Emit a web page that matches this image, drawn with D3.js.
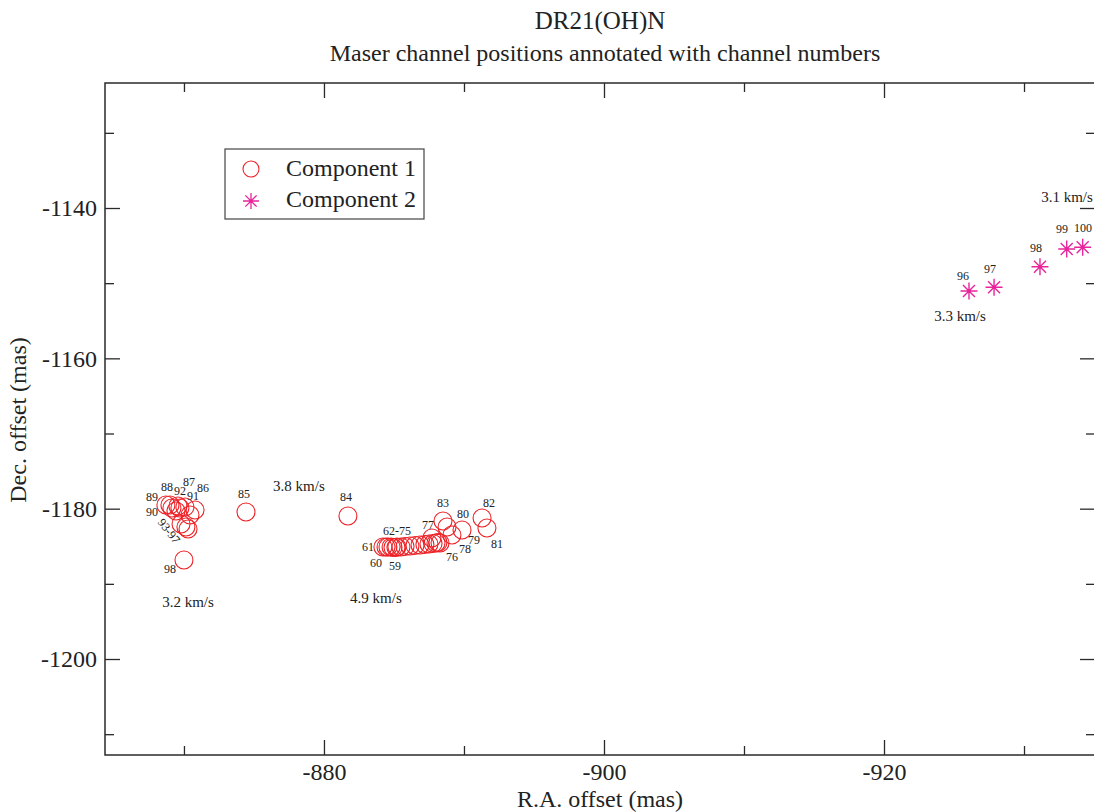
<!DOCTYPE html>
<html>
<head>
<meta charset="utf-8">
<script src="https://cdn.jsdelivr.net/npm/d3@7"></script>
<style>
  html, body { margin: 0; padding: 0; background: #fff; }
  svg { display: block; font-family: "Liberation Serif", "Times New Roman", serif; }
</style>
</head>
<body>
<svg id="chart" width="1094" height="812"></svg>
<script>
// Component 1: maser channels (R.A. / Dec. offsets in mas)
const comp1Channel = [59, 60, 61, 62, 63, 64, 65, 66, 67, 68, 69, 70, 71, 72, 73, 74, 75, 76, 77, 78, 79, 80, 81, 82, 83, 84, 85,
                      86, 87, 88, 89, 90, 91, 92, 93, 94, 95, 96, 97, 98];
const comp1RA  = [-885.21, -884.43, -884.21, -884.57, -884.79, -884.93, -885.14, -885.50, -885.79, -886.14, -886.50, -886.86,
                  -887.21, -887.50, -887.79, -888.00, -888.14, -888.29, -887.71, -888.79, -889.14, -889.86, -891.64, -891.29,
                  -888.50, -881.71, -874.43,
                  -870.79, -870.07, -869.00, -868.71, -869.14, -870.43, -869.57, -869.43, -869.71, -869.79, -870.14, -870.29, -870.00];
const comp1Dec = [-1185.10, -1185.10, -1185.10, -1185.10, -1185.10, -1185.16, -1185.16, -1185.10, -1185.03, -1184.96, -1184.90, -1184.83,
                  -1184.76, -1184.70, -1184.63, -1184.57, -1184.50, -1184.57, -1183.90, -1182.44, -1183.50, -1182.84, -1182.57, -1181.24,
                  -1181.64, -1180.97, -1180.44,
                  -1180.18, -1179.78, -1179.51, -1179.51, -1179.91, -1180.84, -1179.64, -1180.31, -1179.91, -1182.04, -1182.44, -1182.70, -1186.83];

// Component 2: maser channels
const comp2Channel = [96, 97, 98, 99, 100];
const comp2RA  = [-926.07, -927.86, -931.14, -933.05, -934.19];
const comp2Dec = [-1151.04, -1150.55, -1147.81, -1145.45, -1145.23];

// Channel-number annotations (placed in data coordinates)
const chanText = ["86", "87", "88", "89", "90", "92", "91", "98", "85", "84", "62-75", "61", "60", "59",
                  "77", "76", "78", "79", "80", "83", "82", "81",
                  "96", "97", "98", "99", "100"];
const chanRA   = [-871.36, -870.36, -868.79, -867.71, -867.71, -869.71, -870.64, -869.00, -874.29, -881.57, -885.21, -883.14, -883.71, -885.07,
                  -887.43, -889.14, -890.07, -890.71, -889.93, -888.50, -891.79, -892.36,
                  -925.64, -927.57, -930.86, -932.71, -934.21];
const chanDec  = [-1177.78, -1176.95, -1177.65, -1178.98, -1180.97, -1178.15, -1178.78, -1188.56, -1178.58, -1178.98, -1183.50, -1185.63, -1187.76, -1188.16,
                  -1182.70, -1186.96, -1185.90, -1184.70, -1181.24, -1179.78, -1179.78, -1185.23,
                  -1149.58, -1148.65, -1145.85, -1143.33, -1143.19];

// Slanted group label for the overlapping channels
const groupText = "93-97";
const groupRA = -868.93;
const groupDec = -1182.97;

// Velocity annotations
const velText = ["3.8 km/s", "3.2 km/s", "4.9 km/s", "3.3 km/s", "3.1 km/s"];
const velRA   = [-878.21, -870.29, -883.71, -925.43, -933.07];
const velDec  = [-1177.65, -1193.08, -1192.55, -1155.03, -1139.20];

// Axis ticks
const xMajorTicks = [-880, -900, -920];
const xMinorTicks = [-870, -890, -910, -930];
const yMajorTicks = [-1140, -1160, -1180, -1200];
const yMinorTicks = [-1130, -1150, -1170, -1190, -1210];

const legendLabels = ["Component 1", "Component 2"];

// ---------------------------------------------------------------
const svg = d3.select("#chart");
const margin = { left: 105, right: 1095, top: 83, bottom: 755 };
const red = "#ec2227";
const magenta = "#e8259a";
const axisColor = "#2a2a2a";

const x = d3.scaleLinear().domain([-864.36, -935.07]).range([margin.left, margin.right]);
const y = d3.scaleLinear().domain([-1212.77, -1123.37]).range([margin.bottom, margin.top]);

// Plain hyphen-minus tick labels
const plainFormat = d => String(d);

// Titles
svg.append("text").attr("x", 600).attr("y", 29).attr("text-anchor", "middle")
  .attr("font-size", 25).attr("fill", "#222").text("DR21(OH)N");
svg.append("text").attr("x", 605).attr("y", 61).attr("text-anchor", "middle")
  .attr("font-size", 24).attr("fill", "#222").text("Maser channel positions annotated with channel numbers");

// Axes with inward ticks on all four sides
function styleAxis(g) {
  g.select(".domain").remove();
  g.selectAll(".tick line").attr("stroke", axisColor).attr("stroke-width", 1.3);
  g.selectAll(".tick text").attr("fill", "#222").attr("font-size", 24)
    .attr("font-family", "Liberation Serif, serif");
}
const H = margin.bottom, L = margin.left, R = margin.right, T = margin.top;

svg.append("g").attr("transform", `translate(0,${H})`)
  .call(d3.axisBottom(x).tickValues(xMajorTicks).tickSize(-15).tickPadding(8).tickFormat(plainFormat))
  .call(styleAxis);
svg.append("g").attr("transform", `translate(0,${H})`)
  .call(d3.axisBottom(x).tickValues(xMinorTicks).tickSize(-9).tickFormat(""))
  .call(styleAxis);
svg.append("g").attr("transform", `translate(0,${T})`)
  .call(d3.axisTop(x).tickValues(xMajorTicks).tickSize(-15).tickFormat(""))
  .call(styleAxis);
svg.append("g").attr("transform", `translate(0,${T})`)
  .call(d3.axisTop(x).tickValues(xMinorTicks).tickSize(-9).tickFormat(""))
  .call(styleAxis);

svg.append("g").attr("transform", `translate(${L},0)`)
  .call(d3.axisLeft(y).tickValues(yMajorTicks).tickSize(-15).tickPadding(8).tickFormat(plainFormat))
  .call(styleAxis);
svg.append("g").attr("transform", `translate(${L},0)`)
  .call(d3.axisLeft(y).tickValues(yMinorTicks).tickSize(-9).tickFormat(""))
  .call(styleAxis);
svg.append("g").attr("transform", `translate(${R},0)`)
  .call(d3.axisRight(y).tickValues(yMajorTicks).tickSize(-15).tickFormat(""))
  .call(styleAxis);
svg.append("g").attr("transform", `translate(${R},0)`)
  .call(d3.axisRight(y).tickValues(yMinorTicks).tickSize(-9).tickFormat(""))
  .call(styleAxis);

// Plot frame
svg.append("rect").attr("x", L).attr("y", T).attr("width", R - L).attr("height", H - T)
  .attr("fill", "none").attr("stroke", axisColor).attr("stroke-width", 1.5);

// Axis titles
svg.append("text").attr("x", 600).attr("y", 807).attr("text-anchor", "middle")
  .attr("font-size", 24).attr("fill", "#222").text("R.A. offset (mas)");
svg.append("text").attr("transform", `translate(26,420) rotate(-90)`).attr("text-anchor", "middle")
  .attr("font-size", 24).attr("fill", "#222").text("Dec. offset (mas)");

// Asterisk marker: 8 arms plus a centre dot
function asteriskPath(r) {
  const d = r * Math.SQRT1_2;
  return `M${-r},0L${r},0M0,${-r}L0,${r}M${-d},${-d}L${d},${d}M${-d},${d}L${d},${-d}`;
}

const plot = svg.append("g");

// Component 1 circles
const comp1 = comp1Channel.map((c, i) => ({ c, ra: comp1RA[i], dec: comp1Dec[i] }));
plot.selectAll("circle.c1").data(comp1).join("circle")
  .attr("class", "c1")
  .attr("cx", d => x(d.ra)).attr("cy", d => y(d.dec)).attr("r", 9)
  .attr("fill", "none").attr("stroke", red).attr("stroke-width", 1.1);

// Component 2 asterisks
const comp2 = comp2Channel.map((c, i) => ({ c, ra: comp2RA[i], dec: comp2Dec[i] }));
const stars = plot.selectAll("g.c2").data(comp2).join("g")
  .attr("class", "c2")
  .attr("transform", d => `translate(${x(d.ra)},${y(d.dec)})`);
stars.append("path").attr("d", asteriskPath(8.5)).attr("stroke", magenta).attr("stroke-width", 1.4).attr("fill", "none");
stars.append("circle").attr("r", 1.8).attr("fill", magenta);

// Channel numbers
const chans = chanText.map((t, i) => ({ t, ra: chanRA[i], dec: chanDec[i] }));
plot.selectAll("text.chan").data(chans).join("text")
  .attr("class", "chan")
  .attr("x", d => x(d.ra)).attr("y", d => y(d.dec))
  .attr("text-anchor", "middle").attr("font-size", 12).attr("fill", "#222")
  .text(d => d.t);

plot.append("text")
  .attr("transform", `translate(${x(groupRA)},${y(groupDec)}) rotate(52)`)
  .attr("text-anchor", "middle").attr("dominant-baseline", "central")
  .attr("font-size", 12).attr("fill", "#222").text(groupText);

// Velocity labels
const vels = velText.map((t, i) => ({ t, ra: velRA[i], dec: velDec[i] }));
plot.selectAll("text.vel").data(vels).join("text")
  .attr("class", "vel")
  .attr("x", d => x(d.ra)).attr("y", d => y(d.dec))
  .attr("text-anchor", "middle").attr("font-size", 15).attr("fill", "#222")
  .text(d => d.t);

// Legend
const legend = svg.append("g").attr("transform", "translate(225,149)");
legend.append("rect").attr("width", 199).attr("height", 70)
  .attr("fill", "#fff").attr("stroke", "#444").attr("stroke-width", 1.2);
legend.append("circle").attr("cx", 26).attr("cy", 20).attr("r", 8)
  .attr("fill", "none").attr("stroke", red).attr("stroke-width", 1.1);
const lgStar = legend.append("g").attr("transform", "translate(26,52)");
lgStar.append("path").attr("d", asteriskPath(8)).attr("stroke", magenta).attr("stroke-width", 1.3);
lgStar.append("circle").attr("r", 1.6).attr("fill", magenta);
legend.selectAll("text.lg").data(legendLabels).join("text")
  .attr("class", "lg")
  .attr("x", 61).attr("y", (d, i) => 27 + i * 31)
  .attr("font-size", 24).attr("fill", "#222").text(d => d);
</script>
</body>
</html>
